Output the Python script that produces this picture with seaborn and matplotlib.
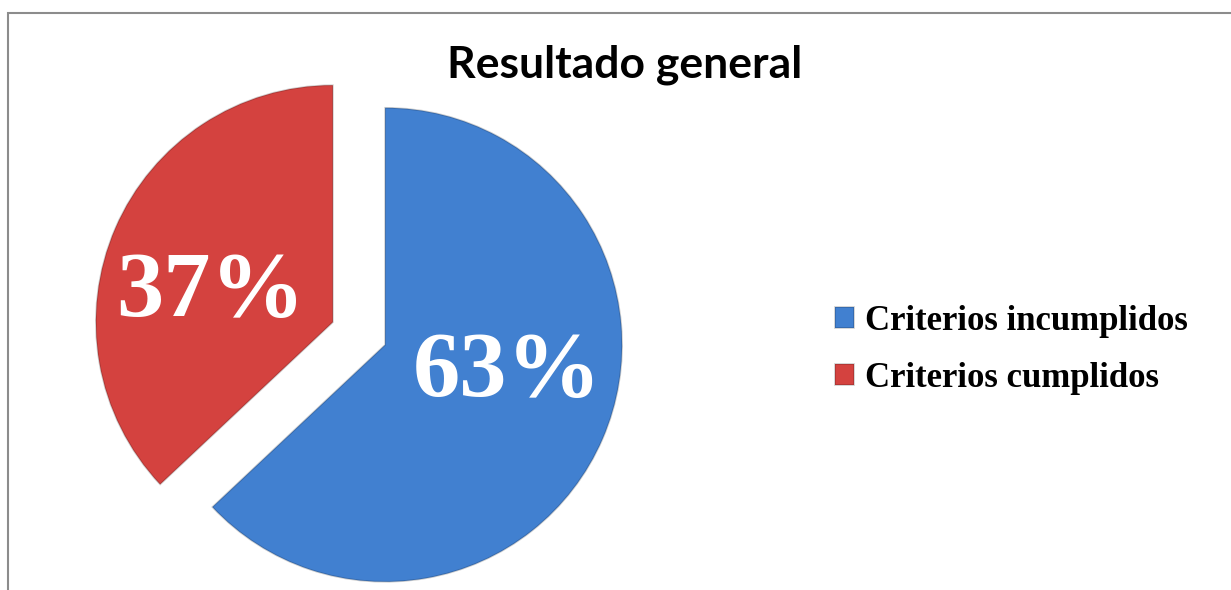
import matplotlib
matplotlib.use("Agg")
import numpy as np
import matplotlib.pyplot as plt
from matplotlib.patches import Rectangle
import seaborn as sns

# --- chart data ---
TITLE = "Resultado general"
CATEGORIES = ["Criterios incumplidos", "Criterios cumplidos"]
PERCENTS = [63, 37]
COLORS = ["#4180d0", "#d4423f"]

W, H, DPI = 1231, 590, 100
RADIUS_PX = 237  # pie radius in pixels
CENTER_PX = (359, 333.5)  # pie centre, pixels from top-left
LABEL_DIST = 0.53
LABEL_ROTATE = 10  # degrees, Excel puts the labels a bit off the mid-angle


def main() -> None:
    sns.set_theme(style="white")
    plt.rcParams["font.family"] = ["Liberation Serif", "DejaVu Serif"]
    plt.rcParams["text.color"] = "black"

    fig = plt.figure(figsize=(W / DPI, H / DPI), dpi=DPI)
    fig.patch.set_facecolor("white")
    ax = fig.add_axes([0, 0, 1, 1])

    wedges, texts, autotexts = ax.pie(
        PERCENTS,
        colors=COLORS,
        startangle=90,
        counterclock=False,
        explode=[0.12, 0.12],
        autopct="%1.0f%%",
        wedgeprops=dict(linewidth=1.2, edgecolor="#00000030"),
        textprops=dict(color="white", fontsize=68, fontweight="bold",
                       family=["Liberation Serif", "DejaVu Serif"]),
    )

    # nudge the percentage labels to where the reference has them
    for w, t in zip(wedges, autotexts):
        ang = np.deg2rad((w.theta1 + w.theta2) / 2 + LABEL_ROTATE)
        x0, y0 = w.center
        t.set_position((x0 + LABEL_DIST * w.r * np.cos(ang),
                        y0 + LABEL_DIST * w.r * np.sin(ang)))

    # map data units to pixels so the pie lands where the reference has it
    cx, cy = CENTER_PX
    ax.set_xlim(-cx / RADIUS_PX, (W - cx) / RADIUS_PX)
    ax.set_ylim(-(H - cy) / RADIUS_PX, cy / RADIUS_PX)
    ax.set_aspect("equal", adjustable="box")
    ax.axis("off")

    # outer chart frame (only top and left edges visible in the crop)
    fig.add_artist(Rectangle((8 / W, -0.1), 1.2, (H - 13) / H + 0.1,
                             transform=fig.transFigure, fill=False,
                             edgecolor="#8c8c8c", linewidth=1.5))

    fig.text(625 / W, 1 - 65 / H, TITLE, ha="center", va="center", color="black",
             fontsize=32, fontweight="bold", family=["Lato", "DejaVu Sans"])

    ax.legend(wedges, CATEGORIES, loc="center left",
              bbox_to_anchor=(835 / W, 1 - 350 / H),
              bbox_transform=fig.transFigure, frameon=False,
              prop=dict(family=["Liberation Serif"], weight="bold", size=25),
              labelcolor="black",
              handlelength=0.55, handleheight=0.55, handletextpad=0.3,
              labelspacing=0.68, borderaxespad=0, borderpad=0)

    fig.savefig("out.png", dpi=DPI)
    plt.close(fig)


if __name__ == "__main__":
    main()
